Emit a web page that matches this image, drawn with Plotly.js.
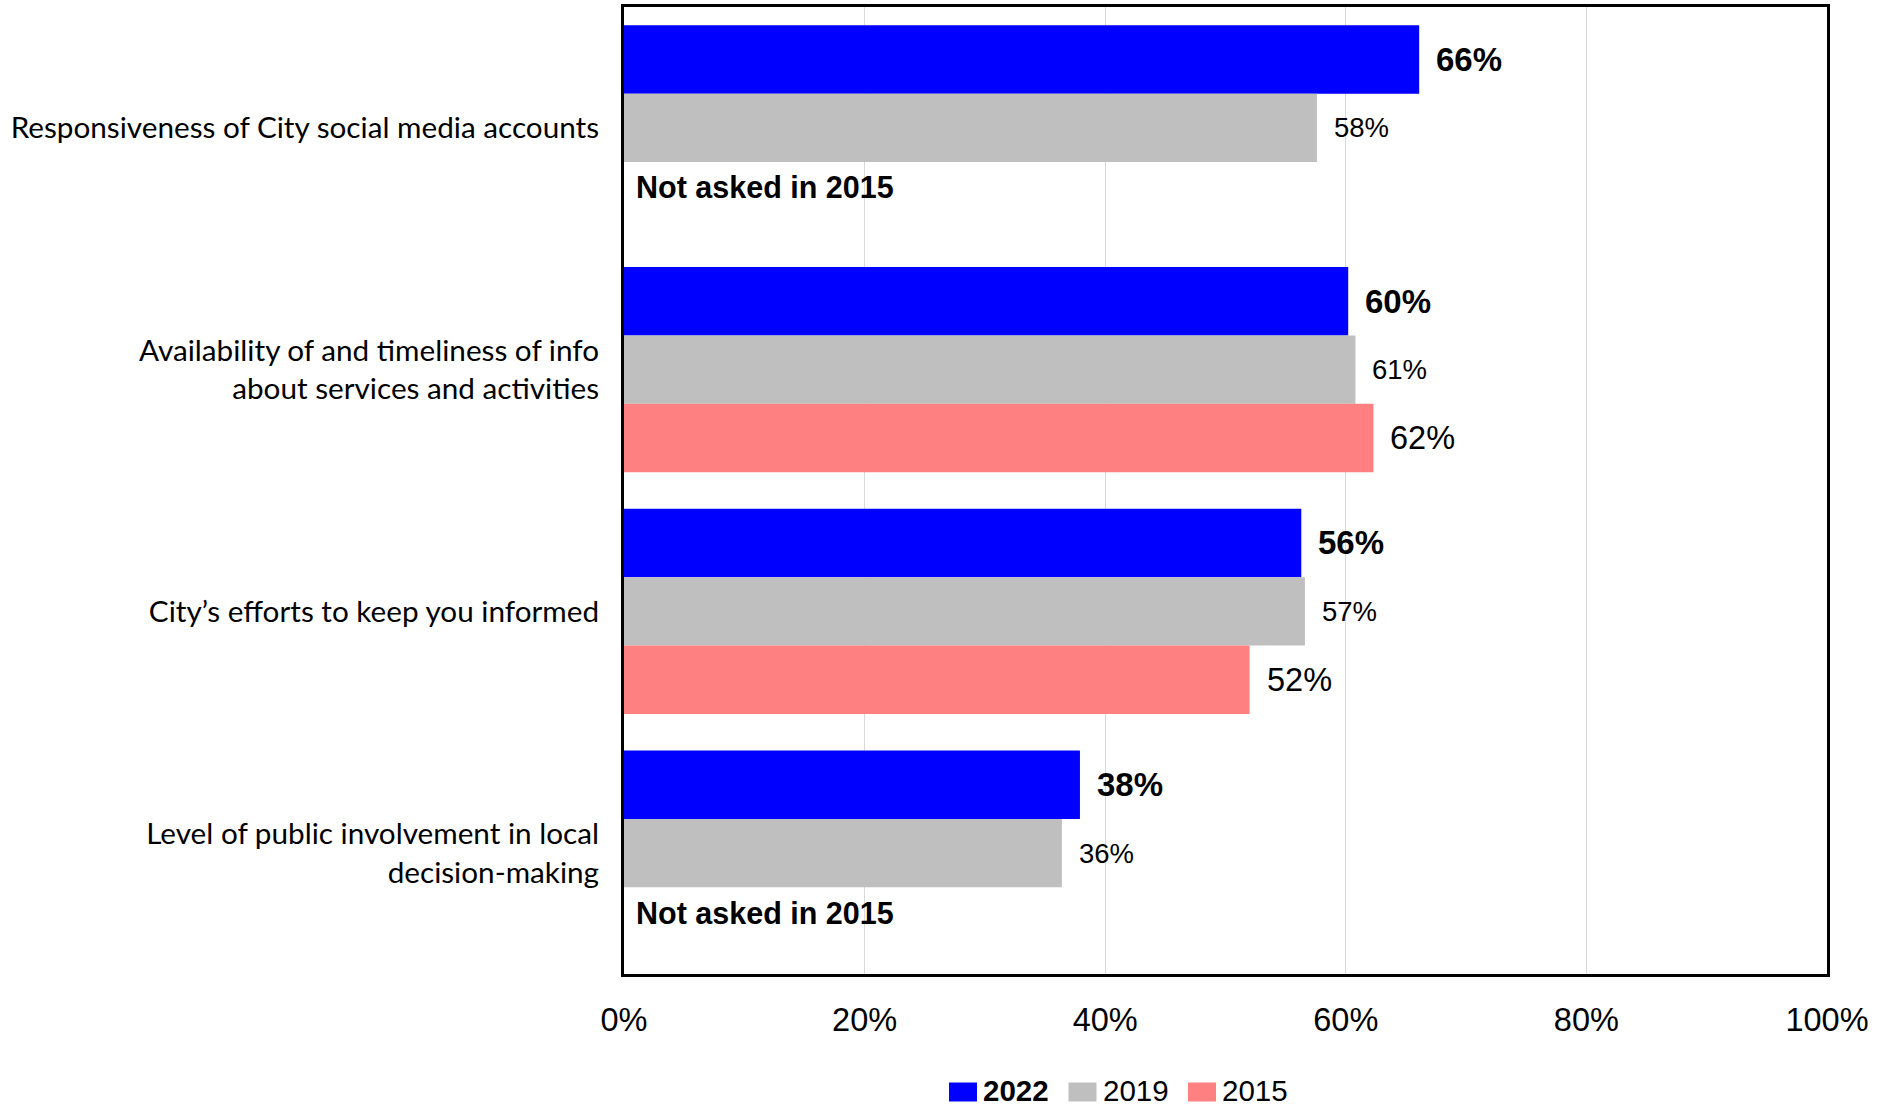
<!DOCTYPE html>
<html>
<head>
<meta charset="utf-8">
<script src="https://cdn.plot.ly/plotly-3.0.1.min.js"></script>
<style>
html,body{margin:0;padding:0;background:#fff;}
#chart{width:1891px;height:1109px;}
</style>
</head>
<body>
<div id="chart"></div>
<script>
// ---- data ----
const categories = [
  "Responsiveness of City social media accounts",
  "Availability of and timeliness of info<br>about services and activities",
  "City\u2019s efforts to keep you informed",
  "Level of public involvement in local<br>decision-making"
];
const seriesNames = ["2022", "2019", "2015"];
const values2022 = [0.661, 0.602, 0.563, 0.379];
const values2019 = [0.576, 0.608, 0.566, 0.364];
const values2015 = [null, 0.623, 0.520, null];
const notAskedLabel = "Not asked in 2015";
const xTickVals = [0, 0.2, 0.4, 0.6, 0.8, 1.0];
const xTickText = ["0%", "20%", "40%", "60%", "80%", "100%"];

// ---- styles ----
const colors = ["#0000ff", "#bfbfbf", "#ff8080"];
const NUMFONT = "Liberation Sans Narrow, Arial Narrow, Liberation Sans, sans-serif";
const CATFONT = "Lato, Calibri, sans-serif";
const labelFonts = [
  {family: NUMFONT, size: 33, color: "#000", weight: "bold"},
  {family: NUMFONT, size: 27.5, color: "#000"},
  {family: NUMFONT, size: 32.5, color: "#000"}
];
const allSeries = [values2022, values2019, values2015];

const traces = allSeries.map((vals, i) => ({
  type: "bar",
  orientation: "h",
  name: seriesNames[i],
  y: categories,
  x: vals,
  marker: {color: colors[i], line: {width: 0}},
  hoverinfo: "x+name",
  showlegend: false
}));

// geometry helpers
const W = 1891, H = 1109;
const margin = {l: 624, r: 64, t: 7, b: 135};
const plotH = H - margin.t - margin.b;
const plotW = W - margin.l - margin.r;
const bargap = 0.15;
const slotPx = plotH / categories.length * (1 - bargap) / seriesNames.length;

const annotations = [];
allSeries.forEach((vals, i) => {
  vals.forEach((v, j) => {
    const shift = (1 - i) * slotPx;
    if (v === null) {
      if (i === 2) {
        annotations.push({
          x: 0, y: categories[j], xref: "x", yref: "y",
          text: "<b>" + notAskedLabel + "</b>",
          showarrow: false, xanchor: "left", yanchor: "middle",
          xshift: 10, yshift: shift + 9,
          font: {family: NUMFONT, size: 30.5, color: "#000"}
        });
      }
      return;
    }
    const t = Math.round(v * 100) + "%";
    annotations.push({
      x: v, y: categories[j], xref: "x", yref: "y",
      text: i === 0 ? "<b>" + t + "</b>" : t,
      showarrow: false, xanchor: "left", yanchor: "middle",
      xshift: 15, yshift: shift,
      font: labelFonts[i]
    });
  });
});

// custom legend (paper coords)
const shapes = [];
const legendYpx = 1090;
const legendY = (H - margin.b - legendYpx) / plotH;
const legendStartPx = 949;
const boxW = 28, boxH = 19, gapBoxText = 5, itemStep = 119.5;
seriesNames.forEach((n, i) => {
  const x0px = legendStartPx + i * itemStep;
  const x0 = (x0px - margin.l) / plotW;
  const x1 = (x0px + boxW - margin.l) / plotW;
  const hh = (boxH / 2) / plotH;
  const boxC = legendY - 2 / plotH;
  shapes.push({
    type: "rect", xref: "paper", yref: "paper",
    x0: x0, x1: x1, y0: boxC - hh, y1: boxC + hh,
    fillcolor: colors[i], line: {width: 0}
  });
  annotations.push({
    xref: "paper", yref: "paper",
    x: (x0px + boxW + gapBoxText - margin.l) / plotW, y: legendY,
    text: i === 0 ? "<b>" + n + "</b>" : n,
    showarrow: false, xanchor: "left", yanchor: "middle",
    borderpad: 0,
    font: {family: NUMFONT, size: 29.5, color: "#000"}
  });
});

const layout = {
  width: W, height: H,
  margin: margin,
  paper_bgcolor: "#fff", plot_bgcolor: "#fff",
  barmode: "group",
  bargap: bargap, bargroupgap: 0,
  showlegend: false,
  xaxis: {
    range: [0, 1],
    tickvals: xTickVals, ticktext: xTickText,
    showgrid: true, gridcolor: "#d9d9d9", gridwidth: 1,
    zeroline: false,
    showline: true, linecolor: "#000", linewidth: 3, mirror: true,
    ticks: "", ticklabelstandoff: 15,
    tickfont: {family: NUMFONT, size: 32.5, color: "#000"},
    fixedrange: true
  },
  yaxis: {
    type: "category",
    autorange: "reversed",
    showgrid: false, zeroline: false,
    showline: true, linecolor: "#000", linewidth: 3, mirror: true,
    ticks: "", ticklabelstandoff: 16,
    tickfont: {family: CATFONT, size: 29.7, color: "#000"},
    fixedrange: true
  },
  annotations: annotations,
  shapes: shapes
};

Plotly.newPlot("chart", traces, layout, {displayModeBar: false, staticPlot: true});
</script>
</body>
</html>
